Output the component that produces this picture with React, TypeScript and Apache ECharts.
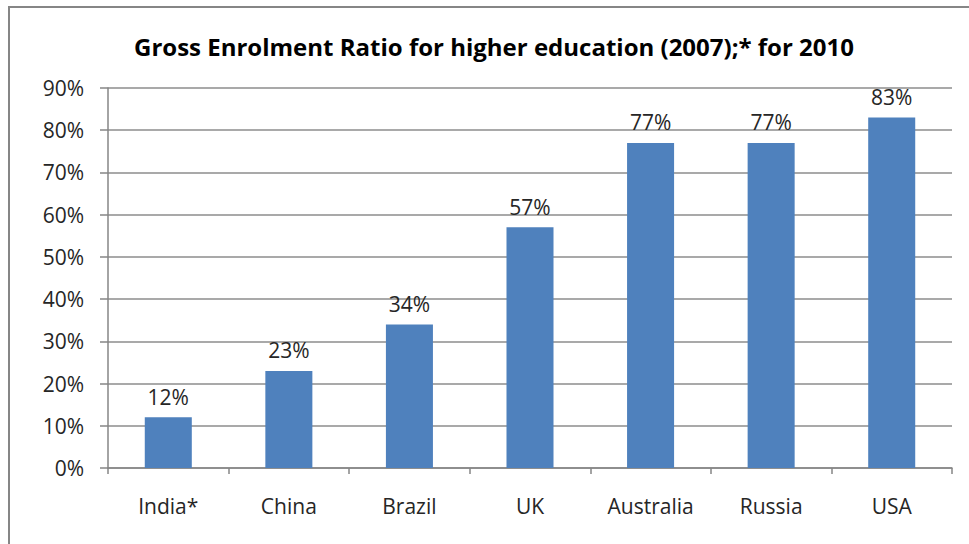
import React, { useEffect, useRef } from "react";
import * as echarts from "echarts";

const categories = ["India*", "China", "Brazil", "UK", "Australia", "Russia", "USA"];
const values = [12, 23, 34, 57, 77, 77, 83];
const yTicks = [0, 10, 20, 30, 40, 50, 60, 70, 80, 90];
const title = "Gross Enrolment Ratio for higher education (2007);* for 2010";

export default function App() {
  const ref = useRef<HTMLDivElement>(null);
  useEffect(() => {
    if (!ref.current) return;
    const chart = echarts.init(ref.current, null, { renderer: "svg" });
    const font = "'Open Sans', Lato, sans-serif";
    chart.setOption({
      animation: false,
      backgroundColor: "#ffffff",
      title: {
        text: title,
        left: 489,
        top: 29,
        textAlign: "center",
        textStyle: { fontFamily: font, fontWeight: "bold", fontSize: 24, color: "#000" },
      },
      graphic: [
        {
          type: "rect",
          shape: { x: 9, y: 7, width: 1000, height: 600 },
          style: { fill: "none", stroke: "#868686", lineWidth: 2 },
          silent: true,
        },
      ],
      grid: { left: 108, right: 969 - 952, top: 88, bottom: 544 - 468 },
      xAxis: {
        type: "category",
        data: categories,
        axisLine: { lineStyle: { color: "#868686", width: 1.5 } },
        axisTick: { show: true, length: 6, alignWithLabel: false, lineStyle: { color: "#868686", width: 1.5 } },
        axisLabel: { fontFamily: font, fontSize: 21, color: "#262626", margin: 27 },
      },
      yAxis: {
        type: "value",
        min: 0,
        max: 90,
        interval: 10,
        axisLine: { show: true, lineStyle: { color: "#868686", width: 1.5 } },
        axisTick: { show: true, length: 8, lineStyle: { color: "#868686", width: 1.5 } },
        splitLine: { lineStyle: { color: "#8c8c8c", width: 1.5 } },
        axisLabel: {
          fontFamily: font,
          fontSize: 21,
          color: "#262626",
          margin: 24,
          formatter: (v: number) => (yTicks.includes(v) ? v + "%" : ""),
        },
      },
      series: [
        {
          type: "bar",
          data: values,
          barWidth: "39%",
          itemStyle: { color: "#4F81BD" },
          label: {
            show: true,
            position: "top",
            distance: 10,
            fontFamily: font,
            fontSize: 21,
            color: "#262626",
            formatter: (p: any) => p.value + "%",
          },
        },
      ],
    });
    return () => chart.dispose();
  }, []);
  return (
    <div
      ref={ref}
      style={{ position: "fixed", left: 0, top: 0, width: 969, height: 544 }}
    />
  );
}
